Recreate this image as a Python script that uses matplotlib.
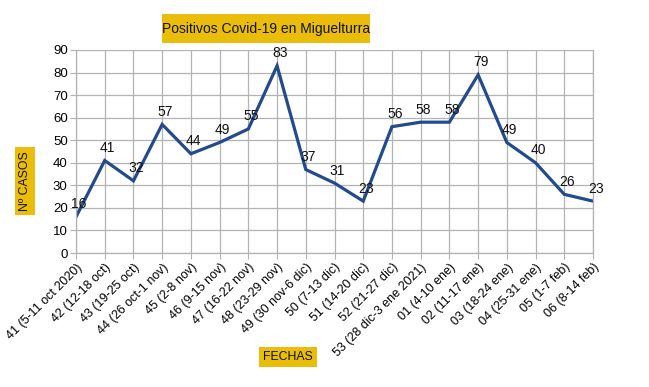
import matplotlib
matplotlib.use('Agg')
import matplotlib.pyplot as plt
from matplotlib.patches import Rectangle

plt.rcParams['font.family'] = ['Liberation Sans', 'DejaVu Sans']

semanas = ['41 (5-11 oct 2020)', '42 (12-18 oct)', '43 (19-25 oct)', '44 (26 oct-1 nov)',
           '45 (2-8 nov)', '46 (9-15 nov)', '47 (16-22 nov)', '48 (23-29 nov)',
           '49 (30 nov-6 dic)', '50 (7-13 dic)', '51 (14-20 dic)', '52 (21-27 dic)',
           '53 (28 dic-3 ene 2021)', '01 (4-10 ene)', '02 (11-17 ene)', '03 (18-24 ene)',
           '04 (25-31 ene)', '05 (1-7 feb)', '06 (8-14 feb)']
casos = [16, 41, 32, 57, 44, 49, 55, 83, 37, 31, 23, 56, 58, 58, 79, 49, 40, 26, 23]

amarillo = '#eabd0b'
gris = '#b3b3b3'

fig = plt.figure(figsize=(6.49, 3.87), dpi=100)
ax = fig.add_axes([76/649, 1-253/387, (593-76)/649, (253-50)/387])

x = list(range(len(casos)))
ax.plot(x, casos, color='#224a8c', linewidth=2.3, solid_joinstyle='miter')

for xi, v in zip(x, casos):
    ax.annotate(str(v), (xi, v), xytext=(2, 4), textcoords='offset points',
                ha='center', va='bottom', fontsize=10, color='#111111')

ax.set_xlim(0, len(casos) - 1)
ax.set_ylim(0, 90)
ax.set_yticks(range(0, 91, 10))
ax.set_xticks(x)
ax.set_xticklabels(semanas, rotation=45, ha='right', rotation_mode='anchor', fontsize=9)
ax.tick_params(axis='y', labelsize=9.5, length=4, color=gris, pad=2)
ax.tick_params(axis='x', length=4, color=gris, pad=2)
ax.grid(True, color=gris, linewidth=0.9)
ax.set_axisbelow(True)
for s in ax.spines.values():
    s.set_color(gris)
    s.set_linewidth(0.9)
ax.spines['top'].set_visible(False)

# caja del titulo
fig.patches.append(Rectangle((162/649, 1-43/387), 208/649, 29/387,
                             transform=fig.transFigure, facecolor=amarillo, edgecolor='none'))
fig.text(266/649, 1-29/387, 'Positivos Covid-19 en Miguelturra', ha='center', va='center',
         fontsize=10, color='#111111')
fig.text(25/649, 1-181/387, 'Nº CASOS', ha='center', va='center', rotation=90,
         fontsize=8.8, color='#111111',
         bbox=dict(boxstyle='square,pad=0.3', facecolor=amarillo, edgecolor='none'))
fig.text(288/649, 1-357/387, 'FECHAS', ha='center', va='center',
         fontsize=8.8, color='#111111',
         bbox=dict(boxstyle='square,pad=0.3', facecolor=amarillo, edgecolor='none'))

fig.savefig('out.png', dpi=100)
